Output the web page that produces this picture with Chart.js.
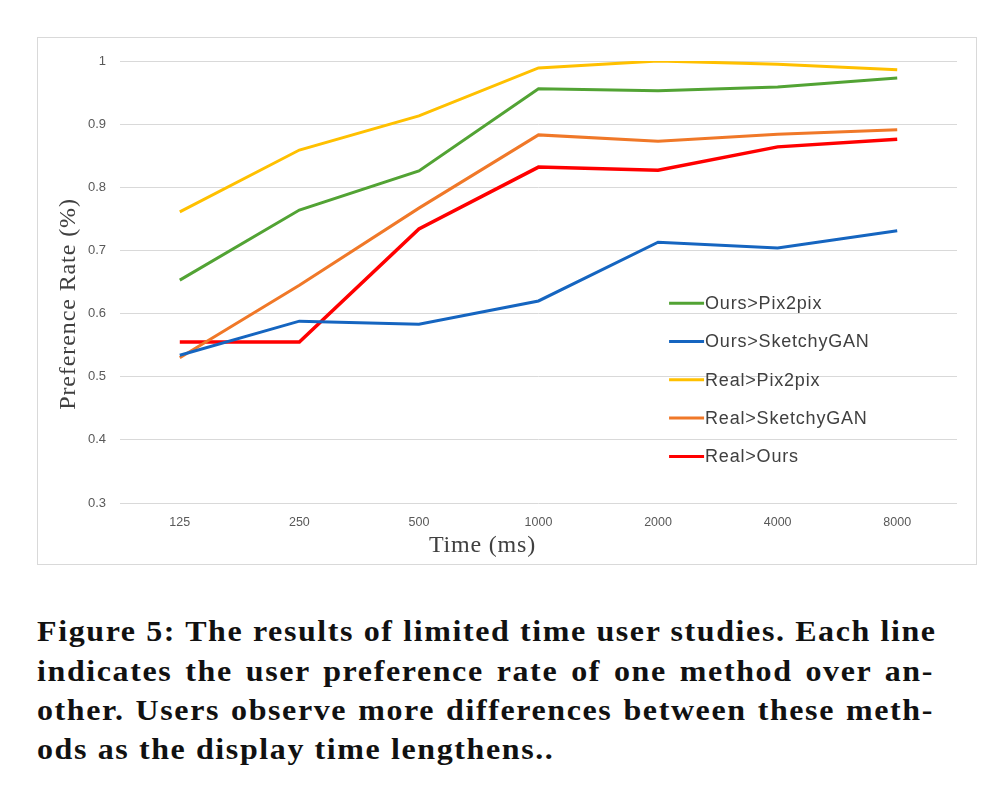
<!DOCTYPE html>
<html>
<head>
<meta charset="utf-8">
<script src="https://cdn.jsdelivr.net/npm/chart.js@4"></script>
<style>
  html, body { margin: 0; padding: 0; background: #ffffff; }
  body { width: 996px; height: 790px; position: relative; overflow: hidden; }
  #box { position: absolute; left: 37px; top: 37px; width: 938px; height: 526px; border: 1px solid #d9d9d9; }
  #box canvas { display: block; }
  #caption { position: absolute; left: 37px; top: 612px; width: 897px;
    font-family: "Liberation Serif", "DejaVu Serif", serif; font-weight: bold; font-size: 32px;
    letter-spacing: 1.6px; line-height: 44px; color: #111;
    transform: scaleY(0.89); transform-origin: 0 0; }
  #caption .ln { display: block; text-align: justify; text-align-last: justify; white-space: nowrap; }
  #caption .last { text-align-last: left; }
</style>
</head>
<body>
<div id="box"><canvas id="c" width="938" height="526"></canvas></div>
<div id="caption">
  <span class="ln">Figure 5: The results of limited time user studies. Each line</span>
  <span class="ln">indicates the user preference rate of one method over an-</span>
  <span class="ln">other. Users observe more differences between these meth-</span>
  <span class="ln last">ods as the display time lengthens..</span>
</div>
<script>
const categories = ["125", "250", "500", "1000", "2000", "4000", "8000"];
const seriesNames = ["Ours>Pix2pix", "Ours>SketchyGAN", "Real>Pix2pix", "Real>SketchyGAN", "Real>Ours"];
const oursPix2pix     = [0.653, 0.764, 0.826, 0.956, 0.953, 0.959, 0.973];
const oursSketchyGAN  = [0.534, 0.588, 0.583, 0.620, 0.713, 0.704, 0.731];
const realPix2pix     = [0.761, 0.859, 0.913, 0.989, 1.000, 0.995, 0.986];
const realSketchyGAN  = [0.530, 0.645, 0.767, 0.883, 0.873, 0.884, 0.891];
const realOurs        = [0.555, 0.555, 0.734, 0.832, 0.827, 0.864, 0.876];
const yTickLabels = ["0.3", "0.4", "0.5", "0.6", "0.7", "0.8", "0.9", "1"];
const xTitle = "Time (ms)";
const yTitle = "Preference Rate (%)";

const colors = ["#52a334", "#1565c0", "#ffc000", "#f07828", "#ff0000"];
const widths = [3, 3, 3, 3, 3.5];
const values = [oursPix2pix, oursSketchyGAN, realPix2pix, realSketchyGAN, realOurs];

const datasets = seriesNames.map((n, i) => ({
  label: n,
  data: values[i],
  borderColor: colors[i],
  backgroundColor: colors[i],
  borderWidth: widths[i],
  pointRadius: 0,
  tension: 0,
  fill: false
}));

const extrasPlugin = {
  id: 'extras',
  afterDraw(chart) {
    const ctx = chart.ctx;
    const a = chart.chartArea;
    ctx.save();
    ctx.fillStyle = '#404040';
    ctx.font = '24px "Liberation Serif", "DejaVu Serif", serif';
    ctx.letterSpacing = '0.8px';
    ctx.textAlign = 'center';
    ctx.textBaseline = 'middle';
    ctx.fillText(xTitle, a.left + (a.right - a.left) * 0.433, a.bottom + 43);
    ctx.letterSpacing = '0.9px';
    ctx.translate(31, (a.top + a.bottom) / 2 + 22);
    ctx.rotate(-Math.PI / 2);
    ctx.fillText(yTitle, 0, 0);
    ctx.restore();

    ctx.save();
    const lx = a.left + (a.right - a.left) * 0.656;
    const ly = a.top + (a.bottom - a.top) * 0.548;
    const gap = 38.3;
    ctx.font = '18px "Liberation Sans", Arial, sans-serif';
    ctx.letterSpacing = '0.8px';
    ctx.textBaseline = 'middle';
    ctx.textAlign = 'left';
    chart.data.datasets.forEach((ds, i) => {
      const y = ly + i * gap;
      ctx.strokeStyle = ds.borderColor;
      ctx.lineWidth = 3;
      ctx.beginPath();
      ctx.moveTo(lx, y);
      ctx.lineTo(lx + 35, y);
      ctx.stroke();
      ctx.fillStyle = '#404040';
      ctx.fillText(ds.label, lx + 36, y + 1);
    });
    ctx.restore();
  }
};

new Chart(document.getElementById('c'), {
  type: 'line',
  data: { labels: categories, datasets: datasets },
  options: {
    responsive: false,
    animation: false,
    layout: { padding: { top: 23, right: 19, bottom: 0, left: 0 } },
    plugins: { legend: { display: false }, tooltip: { enabled: false } },
    scales: {
      x: {
        offset: true,
        grid: { display: false, drawTicks: false },
        border: { display: false },
        ticks: { color: '#595959', font: { size: 12.5, family: '"Liberation Sans", Arial, sans-serif' }, padding: 12, maxRotation: 0 },
        afterFit(s) { s.height = 61; }
      },
      y: {
        min: 0.3, max: 1,
        grid: { color: '#d9d9d9', lineWidth: 1, drawTicks: false },
        border: { display: false },
        ticks: {
          stepSize: 0.1,
          color: '#595959',
          font: { size: 13, family: '"Liberation Sans", Arial, sans-serif' },
          padding: 14,
          callback: (v, i) => yTickLabels[i]
        },
        afterFit(s) { s.width = 82; }
      }
    }
  },
  plugins: [extrasPlugin]
});
</script>
</body>
</html>
